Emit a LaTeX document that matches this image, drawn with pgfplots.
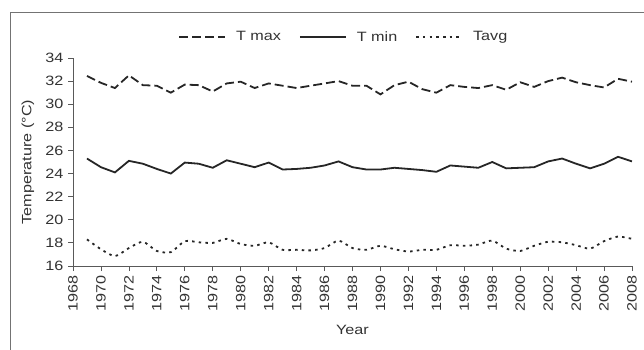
\documentclass[border=0pt]{standalone}
\usepackage{fontspec}
\setmainfont{Liberation Sans}[FakeStretch=1.2]
\usepackage{pgfplots}
\pgfplotsset{compat=1.18}
\pgfplotstableread{
year tmax tmin tavg
1969 32.45 25.30 18.30
1970 31.85 24.55 17.45
1971 31.40 24.10 16.85
1972 32.50 25.10 17.55
1973 31.65 24.85 18.10
1974 31.60 24.40 17.30
1975 31.00 24.00 17.20
1976 31.70 24.95 18.15
1977 31.65 24.85 18.05
1978 31.10 24.50 18.00
1979 31.80 25.15 18.35
1980 31.95 24.85 17.90
1981 31.40 24.55 17.75
1982 31.80 24.95 18.05
1983 31.60 24.35 17.40
1984 31.40 24.40 17.40
1985 31.60 24.50 17.35
1986 31.80 24.70 17.55
1987 32.00 25.05 18.20
1988 31.60 24.55 17.55
1989 31.60 24.35 17.40
1990 30.85 24.35 17.75
1991 31.65 24.50 17.45
1992 31.95 24.40 17.25
1993 31.30 24.30 17.40
1994 31.00 24.15 17.40
1995 31.65 24.70 17.80
1996 31.50 24.60 17.75
1997 31.40 24.50 17.85
1998 31.65 25.00 18.20
1999 31.25 24.45 17.50
2000 31.90 24.50 17.30
2001 31.50 24.55 17.75
2002 32.00 25.05 18.10
2003 32.30 25.30 18.05
2004 31.90 24.85 17.80
2005 31.65 24.45 17.50
2006 31.45 24.85 18.15
2007 32.20 25.45 18.55
2008 31.95 25.05 18.35
}\data
\begin{document}
\fontsize{13.5}{16}\selectfont
\begin{tikzpicture}
\useasboundingbox (0,0) rectangle (644pt,350pt);
\draw[black!55, line width=0.9pt] (10pt,0pt) -- (10pt,338pt) -- (644pt,338pt);
\begin{axis}[
  at={(73pt,84pt)}, anchor=south west,
  scale only axis, width=559pt, height=208pt,
  xmin=1968, xmax=2008, ymin=16, ymax=34,
  xtick={1968,1970,...,2008}, ytick={16,18,...,34},
  axis x line*=bottom, axis y line*=left,
  axis line style={black!65, line width=0.8pt},
  tick style={black!65, line width=0.8pt},
  tick align=outside, major tick length=5pt,
  /pgf/number format/assume math mode=true,
  /pgf/number format/1000 sep={},
  ticklabel style={font=\fontsize{13.5}{16}\selectfont, text=black!80},
  x tick label style={rotate=90, anchor=east},
  xlabel={Year}, ylabel={Temperature (°C)},
  label style={font=\fontsize{13.5}{16}\selectfont, text=black!80},
  xlabel style={yshift=-4pt},
  ylabel style={yshift=2pt},
  legend style={at={(0.1825,1.10)}, anchor=west, draw=none, fill=none,
    legend columns=3, font=\fontsize{13.5}{16}\selectfont, text=black!80,
    /tikz/every odd column/.append style={column sep=8pt},
    /tikz/every even column/.append style={column sep=16pt}},
  legend image code/.code={\draw[#1] (0pt,0pt) -- (46pt,0pt);},
]
\addplot[black!85, line width=1.8pt, dash pattern=on 9pt off 4pt] table[x=year,y=tmax]{\data};
\addlegendentry{T max}
\addplot[black!85, line width=1.8pt] table[x=year,y=tmin]{\data};
\addlegendentry{T min}
\addplot[black!85, line width=1.8pt, dash pattern=on 2.5pt off 4.2pt, smooth, tension=0.4] table[x=year,y=tavg]{\data};
\addlegendentry{Tavg}
\end{axis}
\end{tikzpicture}
\end{document}
